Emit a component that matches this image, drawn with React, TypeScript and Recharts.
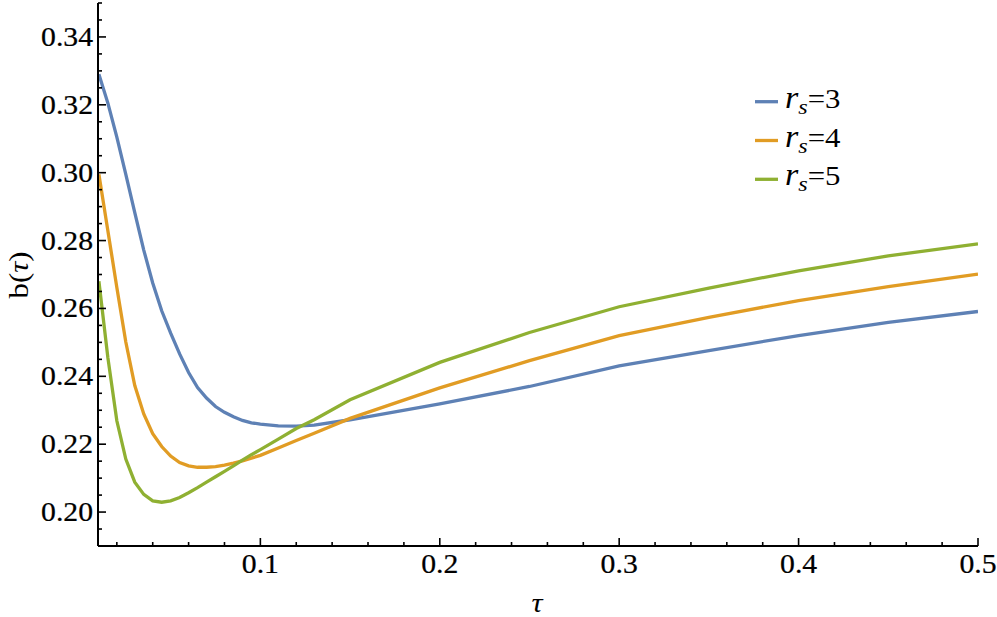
import React from "react";
import { LineChart, Line, XAxis, YAxis, Legend } from "recharts";

const tau = [0.01, 0.015, 0.02, 0.025, 0.03, 0.035, 0.04, 0.045, 0.05, 0.055, 0.06, 0.065, 0.07, 0.075, 0.08, 0.085, 0.09, 0.095, 0.1, 0.11, 0.12, 0.13, 0.15, 0.2, 0.25, 0.3, 0.35, 0.4, 0.45, 0.5];
const bRs3 = [0.329, 0.3205, 0.3105, 0.2995, 0.2882, 0.2772, 0.2675, 0.2593, 0.2527, 0.2466, 0.2411, 0.2367, 0.2336, 0.2311, 0.2294, 0.2281, 0.227, 0.2263, 0.2259, 0.2254, 0.2253, 0.2256, 0.2272, 0.2319, 0.237, 0.2431, 0.2476, 0.252, 0.2559, 0.2591];
const bRs4 = [0.2995, 0.2829, 0.2662, 0.2501, 0.2373, 0.2289, 0.2231, 0.2193, 0.2165, 0.2146, 0.2136, 0.2132, 0.2132, 0.2134, 0.2138, 0.2144, 0.2151, 0.2159, 0.2167, 0.2189, 0.2211, 0.2232, 0.2276, 0.2366, 0.2446, 0.252, 0.2574, 0.2623, 0.2664, 0.2701];
const bRs5 = [0.268, 0.2455, 0.2269, 0.2156, 0.2088, 0.2052, 0.2033, 0.2029, 0.2033, 0.2043, 0.2057, 0.2072, 0.2088, 0.2104, 0.212, 0.2136, 0.2153, 0.2169, 0.2184, 0.2215, 0.2246, 0.2272, 0.2331, 0.2441, 0.2529, 0.2605, 0.266, 0.2711, 0.2755, 0.279];

const rsValues = ["3", "4", "5"];
const seriesColors = ["#5E81B5", "#E19C24", "#8FB032"];
const xTickLabels = ["0.1", "0.2", "0.3", "0.4", "0.5"];
const yTickLabels = ["0.20", "0.22", "0.24", "0.26", "0.28", "0.30", "0.32", "0.34"];

const data = tau.map((t, i) => ({ tau: t, b3: bRs3[i], b4: bRs4[i], b5: bRs5[i] }));
const seriesKeys = ["b3", "b4", "b5"];

const xTicks = Array.from({ length: 25 }, (_, i) => +((i + 1) * 0.02).toFixed(2));
const yTicks = Array.from({ length: 33 }, (_, i) => +(0.19 + i * 0.005).toFixed(3));

const FONT = "'Liberation Serif', 'Times New Roman', serif";
const SX = 1.1;
const FS = 27;
const MAJOR = 8;
const MINOR = 4;

const xMajor = (v: number) => xTickLabels.includes(String(v));
const yMajor = (v: number) => {
  const l = v.toFixed(2);
  return yTickLabels.includes(l) && Math.abs(v - parseFloat(l)) < 1e-9 ? l : null;
};

const BottomTick = (p: any) => {
  const { x, y, payload } = p;
  const v = payload.value;
  const m = xMajor(v);
  return (
    <g>
      <line x1={x} x2={x} y1={y} y2={y - (m ? MAJOR : MINOR)} stroke="#000" strokeWidth={1.6} />
      {m && (
        <text transform={`translate(${x},${y + 27}) scale(${SX},1)`} textAnchor="middle" fontFamily={FONT} fontSize={FS} fill="#000" stroke="#000" strokeWidth={0.25}>
          {String(v)}
        </text>
      )}
    </g>
  );
};

const TopTick = (p: any) => {
  const { x, y, payload } = p;
  const m = xMajor(payload.value);
  return <line x1={x} x2={x} y1={y} y2={y + (m ? MAJOR : MINOR)} stroke="#000" strokeWidth={1.6} />;
};

const LeftTick = (p: any) => {
  const { x, y, payload } = p;
  const l = yMajor(payload.value);
  return (
    <g>
      <line x1={x} x2={x + (l ? MAJOR : MINOR)} y1={y} y2={y} stroke="#000" strokeWidth={1.6} />
      {l && (
        <text transform={`translate(${x - 5},${y + 9}) scale(${SX},1)`} textAnchor="end" fontFamily={FONT} fontSize={FS} fill="#000" stroke="#000" strokeWidth={0.25}>
          {l}
        </text>
      )}
    </g>
  );
};

const RightTick = (p: any) => {
  const { x, y, payload } = p;
  const l = yMajor(payload.value);
  return <line x1={x} x2={x - (l ? MAJOR : MINOR)} y1={y} y2={y} stroke="#000" strokeWidth={1.6} />;
};

const renderLegend = (props: any) => {
  const payload = props.payload || [];
  return (
    <svg width={140} height={120} style={{ overflow: "visible" }}>
      {payload.map((e: any, i: number) => {
        const cy = 21.7 + i * 38.8;
        return (
          <g key={i}>
            <line x1={10} x2={33} y1={cy} y2={cy} stroke={e.color} strokeWidth={3.3} />
            <text transform={`translate(40,${cy + 6}) scale(${SX},1)`} fontFamily={FONT} fill="#000" fontSize={28}>
              <tspan fontStyle="italic" fontSize={31}>r</tspan>
              <tspan fontStyle="italic" fontSize={22} dy={6}>s</tspan>
              <tspan dy={-6}>={rsValues[i]}</tspan>
            </text>
          </g>
        );
      })}
    </svg>
  );
};

export default function App() {
  return (
    <div style={{ position: "absolute", left: 0, top: 0, width: 997, height: 617, background: "#fff" }}>
      <LineChart width={997} height={617} data={data} margin={{ top: 3, right: 19, bottom: 0, left: 0 }}>
        <XAxis
          dataKey="tau"
          type="number"
          domain={[0.0095, 0.5]}
          allowDataOverflow
          ticks={xTicks}
          interval={0}
          height={71}
          tickSize={0}
          tickMargin={0}
          tickLine={false}
          axisLine={{ stroke: "#000", strokeWidth: 2 }}
          tick={<BottomTick />}
        />
        <XAxis
          xAxisId="top"
          orientation="top"
          dataKey="tau"
          type="number"
          domain={[0.0095, 0.5]}
          allowDataOverflow
          ticks={xTicks}
          interval={0}
          height={0}
          tickSize={0}
          tickMargin={0}
          tickLine={false}
          axisLine={{ stroke: "#000", strokeWidth: 2 }}
          tick={<TopTick />}
        />
        <YAxis
          type="number"
          domain={[0.19, 0.35]}
          allowDataOverflow
          ticks={yTicks}
          interval={0}
          width={98}
          tickSize={0}
          tickMargin={0}
          tickLine={false}
          axisLine={{ stroke: "#000", strokeWidth: 2 }}
          tick={<LeftTick />}
        />
        <YAxis
          yAxisId="right"
          orientation="right"
          type="number"
          domain={[0.19, 0.35]}
          allowDataOverflow
          ticks={yTicks}
          interval={0}
          width={0}
          tickSize={0}
          tickMargin={0}
          tickLine={false}
          axisLine={{ stroke: "#000", strokeWidth: 2 }}
          tick={<RightTick />}
        />
        <Legend
          layout="vertical"
          align="center"
          verticalAlign="middle"
          wrapperStyle={{ position: "absolute", left: 745, top: 80, width: 140, height: 120 }}
          content={renderLegend}
        />
        {seriesKeys.map((k, i) => (
          <Line
            key={k}
            dataKey={k}
            name={`rs=${rsValues[i]}`}
            type="linear"
            stroke={seriesColors[i]}
            strokeWidth={3.3}
            dot={false}
            activeDot={false}
            isAnimationActive={false}
          />
        ))}
      </LineChart>
      <svg width={997} height={617} style={{ position: "absolute", left: 0, top: 0, pointerEvents: "none" }}>
        <text transform="translate(28,275) rotate(-90) scale(1.1,1)" textAnchor="middle" fontFamily={FONT} fontSize={28} fill="#000">
          b(<tspan fontStyle="italic">τ</tspan>)
        </text>
        <text transform="translate(537,612) scale(1.1,1)" textAnchor="middle" fontFamily={FONT} fontStyle="italic" fontSize={28} fill="#000">
          τ
        </text>
      </svg>
    </div>
  );
}
